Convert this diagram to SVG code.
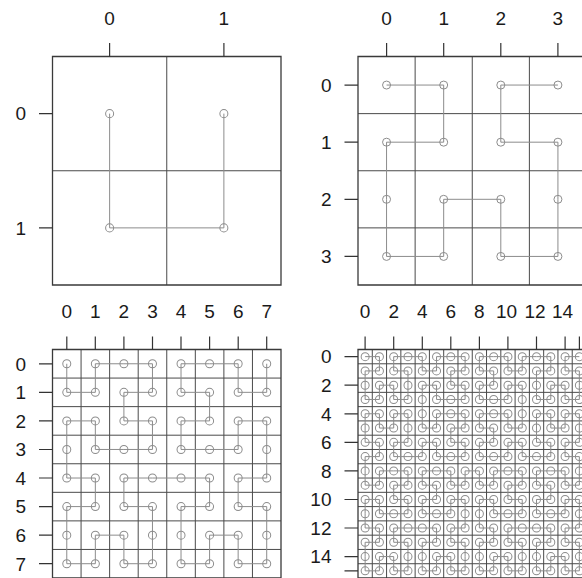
<svg xmlns="http://www.w3.org/2000/svg" width="582" height="578" viewBox="0 0 582 578">
<style>
.bg{fill:#ffffff}
.grid{fill:none;stroke:#4a4a4a;stroke-width:1;vector-effect:non-scaling-stroke}
.box{fill:none;stroke:#3a3a3a;stroke-width:1.3;vector-effect:non-scaling-stroke}
.curve{fill:none;stroke:#8c8c8c;stroke-width:1;vector-effect:non-scaling-stroke}
.tick{stroke:#333333;stroke-width:1.2;fill:none}
.lab{font-family:"Liberation Sans",Arial,sans-serif;font-size:19px;fill:#1a1a1a}
.top{text-anchor:middle}
.left{text-anchor:end}
.pt{fill:none;stroke:#8c8c8c;stroke-width:1}
</style>
<defs>
<marker id="m1" markerUnits="userSpaceOnUse" viewBox="-5 -5 10 10" markerWidth="0.08753" markerHeight="0.08753" refX="0" refY="0" overflow="visible"><circle class="pt" r="4"/></marker>
<marker id="m2" markerUnits="userSpaceOnUse" viewBox="-5 -5 10 10" markerWidth="0.17505" markerHeight="0.17505" refX="0" refY="0" overflow="visible"><circle class="pt" r="4"/></marker>
<marker id="m3" markerUnits="userSpaceOnUse" viewBox="-5 -5 10 10" markerWidth="0.35011" markerHeight="0.35011" refX="0" refY="0" overflow="visible"><circle class="pt" r="4"/></marker>
<marker id="m4" markerUnits="userSpaceOnUse" viewBox="-5 -5 10 10" markerWidth="0.70022" markerHeight="0.70022" refX="0" refY="0" overflow="visible"><circle class="pt" r="4"/></marker>
</defs>
<rect class="bg" x="0" y="0" width="582" height="578"/>

<g id="panel1">
<g transform="translate(52.5,56.5) scale(114.25)">
<path class="grid" d="M1 0V2M0 1H2"/>
<rect class="box" x="0" y="0" width="2" height="2"/>
</g>
<g transform="translate(109.625,113.625) scale(114.25)">
<polyline class="curve" marker-start="url(#m1)" marker-mid="url(#m1)" marker-end="url(#m1)" points="0,0 0,1 1,1 1,0"/>
</g>
<path class="tick" d="M109.6 43V56.5M223.9 43V56.5M39 113.6H52.5M39 227.9H52.5"/>
<text class="lab top" x="109.6" y="25">0</text>
<text class="lab top" x="223.9" y="25">1</text>
<text class="lab left" x="26" y="120.4">0</text>
<text class="lab left" x="26" y="234.7">1</text>
</g>

<g id="panel2">
<g transform="translate(358,56.5) scale(57.125)">
<path class="grid" d="M1 0V4M2 0V4M3 0V4M0 1H4M0 2H4M0 3H4"/>
<rect class="box" x="0" y="0" width="4" height="4"/>
</g>
<g transform="translate(386.56,85.06) scale(57.125)">
<polyline class="curve" marker-start="url(#m2)" marker-mid="url(#m2)" marker-end="url(#m2)" points="0,0 1,0 1,1 0,1 0,2 0,3 1,3 1,2 2,2 2,3 3,3 3,2 3,1 2,1 2,0 3,0"/>
</g>
<path class="tick" d="M386.6 43V56.5M443.7 43V56.5M500.8 43V56.5M557.9 43V56.5M344.5 85.1H358M344.5 142.2H358M344.5 199.3H358M344.5 256.4H358"/>
<text class="lab top" x="386.6" y="25">0</text>
<text class="lab top" x="443.7" y="25">1</text>
<text class="lab top" x="500.8" y="25">2</text>
<text class="lab top" x="557.9" y="25">3</text>
<text class="lab left" x="331.5" y="91.9">0</text>
<text class="lab left" x="331.5" y="149">1</text>
<text class="lab left" x="331.5" y="206.1">2</text>
<text class="lab left" x="331.5" y="263.2">3</text>
</g>

<g id="panel3">
<g transform="translate(52.5,349.5) scale(28.5625)">
<path class="grid" d="M1 0V8M2 0V8M3 0V8M4 0V8M5 0V8M6 0V8M7 0V8M0 1H8M0 2H8M0 3H8M0 4H8M0 5H8M0 6H8M0 7H8"/>
<rect class="box" x="0" y="0" width="8" height="8"/>
</g>
<g transform="translate(66.78,363.78) scale(28.5625)">
<polyline class="curve" marker-start="url(#m3)" marker-mid="url(#m3)" marker-end="url(#m3)" points="0,0 0,1 1,1 1,0 2,0 3,0 3,1 2,1 2,2 3,2 3,3 2,3 1,3 1,2 0,2 0,3 0,4 1,4 1,5 0,5 0,6 0,7 1,7 1,6 2,6 2,7 3,7 3,6 3,5 2,5 2,4 3,4 4,4 5,4 5,5 4,5 4,6 4,7 5,7 5,6 6,6 6,7 7,7 7,6 7,5 6,5 6,4 7,4 7,3 7,2 6,2 6,3 5,3 4,3 4,2 5,2 5,1 4,1 4,0 5,0 6,0 6,1 7,1 7,0"/>
</g>
<path class="tick" d="M66.8 336.5V349.5M95.3 336.5V349.5M123.9 336.5V349.5M152.5 336.5V349.5M181 336.5V349.5M209.6 336.5V349.5M238.2 336.5V349.5M266.7 336.5V349.5M39 363.8H52.5M39 392.3H52.5M39 420.9H52.5M39 449.5H52.5M39 478H52.5M39 506.6H52.5M39 535.2H52.5M39 563.7H52.5"/>
<text class="lab top" x="66.8" y="318">0</text>
<text class="lab top" x="95.3" y="318">1</text>
<text class="lab top" x="123.9" y="318">2</text>
<text class="lab top" x="152.5" y="318">3</text>
<text class="lab top" x="181" y="318">4</text>
<text class="lab top" x="209.6" y="318">5</text>
<text class="lab top" x="238.2" y="318">6</text>
<text class="lab top" x="266.7" y="318">7</text>
<text class="lab left" x="26" y="370.6">0</text>
<text class="lab left" x="26" y="399.1">1</text>
<text class="lab left" x="26" y="427.7">2</text>
<text class="lab left" x="26" y="456.3">3</text>
<text class="lab left" x="26" y="484.8">4</text>
<text class="lab left" x="26" y="513.4">5</text>
<text class="lab left" x="26" y="542">6</text>
<text class="lab left" x="26" y="570.5">7</text>
</g>

<g id="panel4">
<g transform="translate(358,349.5) scale(14.28125)">
<path class="grid" d="M1 0V16M2 0V16M3 0V16M4 0V16M5 0V16M6 0V16M7 0V16M8 0V16M9 0V16M10 0V16M11 0V16M12 0V16M13 0V16M14 0V16M15 0V16M0 1H16M0 2H16M0 3H16M0 4H16M0 5H16M0 6H16M0 7H16M0 8H16M0 9H16M0 10H16M0 11H16M0 12H16M0 13H16M0 14H16M0 15H16"/>
<rect class="box" x="0" y="0" width="16" height="16"/>
</g>
<g transform="translate(365.14,356.64) scale(14.28125)">
<polyline class="curve" marker-start="url(#m4)" marker-mid="url(#m4)" marker-end="url(#m4)" points="0,0 1,0 1,1 0,1 0,2 0,3 1,3 1,2 2,2 2,3 3,3 3,2 3,1 2,1 2,0 3,0 4,0 4,1 5,1 5,0 6,0 7,0 7,1 6,1 6,2 7,2 7,3 6,3 5,3 5,2 4,2 4,3 4,4 4,5 5,5 5,4 6,4 7,4 7,5 6,5 6,6 7,6 7,7 6,7 5,7 5,6 4,6 4,7 3,7 2,7 2,6 3,6 3,5 3,4 2,4 2,5 1,5 1,4 0,4 0,5 0,6 1,6 1,7 0,7 0,8 0,9 1,9 1,8 2,8 3,8 3,9 2,9 2,10 3,10 3,11 2,11 1,11 1,10 0,10 0,11 0,12 1,12 1,13 0,13 0,14 0,15 1,15 1,14 2,14 2,15 3,15 3,14 3,13 2,13 2,12 3,12 4,12 5,12 5,13 4,13 4,14 4,15 5,15 5,14 6,14 6,15 7,15 7,14 7,13 6,13 6,12 7,12 7,11 7,10 6,10 6,11 5,11 4,11 4,10 5,10 5,9 4,9 4,8 5,8 6,8 6,9 7,9 7,8 8,8 8,9 9,9 9,8 10,8 11,8 11,9 10,9 10,10 11,10 11,11 10,11 9,11 9,10 8,10 8,11 8,12 9,12 9,13 8,13 8,14 8,15 9,15 9,14 10,14 10,15 11,15 11,14 11,13 10,13 10,12 11,12 12,12 13,12 13,13 12,13 12,14 12,15 13,15 13,14 14,14 14,15 15,15 15,14 15,13 14,13 14,12 15,12 15,11 15,10 14,10 14,11 13,11 12,11 12,10 13,10 13,9 12,9 12,8 13,8 14,8 14,9 15,9 15,8 15,7 14,7 14,6 15,6 15,5 15,4 14,4 14,5 13,5 13,4 12,4 12,5 12,6 13,6 13,7 12,7 11,7 11,6 10,6 10,7 9,7 8,7 8,6 9,6 9,5 8,5 8,4 9,4 10,4 10,5 11,5 11,4 11,3 11,2 10,2 10,3 9,3 8,3 8,2 9,2 9,1 8,1 8,0 9,0 10,0 10,1 11,1 11,0 12,0 13,0 13,1 12,1 12,2 12,3 13,3 13,2 14,2 14,3 15,3 15,2 15,1 14,1 14,0 15,0"/>
</g>
<path class="tick" d="M365.1 336.5V349.5M393.7 336.5V349.5M422.3 336.5V349.5M450.8 336.5V349.5M479.4 336.5V349.5M507.9 336.5V349.5M536.5 336.5V349.5M565.1 336.5V349.5M579.4 336.5V349.5M344.5 356.6H358M344.5 385.2H358M344.5 413.8H358M344.5 442.4H358M344.5 470.9H358M344.5 499.5H358M344.5 528H358M344.5 556.6H358M344.5 570.9H358"/>
<text class="lab top" x="365.1" y="318">0</text>
<text class="lab top" x="393.7" y="318">2</text>
<text class="lab top" x="422.3" y="318">4</text>
<text class="lab top" x="450.8" y="318">6</text>
<text class="lab top" x="479.4" y="318">8</text>
<text class="lab top" x="506.5" y="318">10</text>
<text class="lab top" x="535" y="318">12</text>
<text class="lab top" x="562.5" y="318">14</text>
<text class="lab left" x="331.5" y="363.4">0</text>
<text class="lab left" x="331.5" y="392">2</text>
<text class="lab left" x="331.5" y="420.6">4</text>
<text class="lab left" x="331.5" y="449.2">6</text>
<text class="lab left" x="331.5" y="477.7">8</text>
<text class="lab left" x="331.5" y="506.3">10</text>
<text class="lab left" x="331.5" y="534.8">12</text>
<text class="lab left" x="331.5" y="563.4">14</text>
</g>
</svg>
